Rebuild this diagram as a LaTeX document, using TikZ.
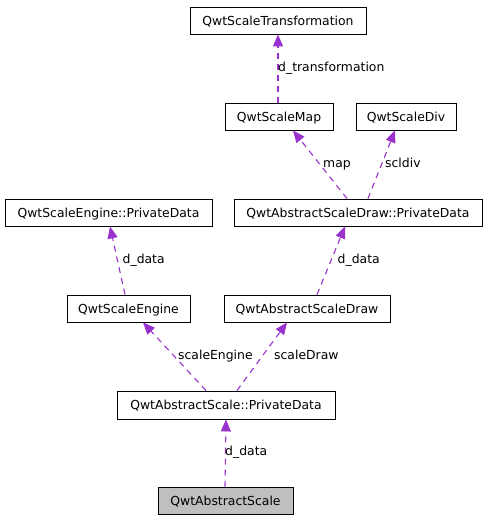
\documentclass[tikz,border=0pt]{standalone}
\usepackage{fontspec}
\setmainfont{DejaVu Sans}
\usetikzlibrary{arrows.meta}
\definecolor{edgepurple}{RGB}{154,50,205}
\definecolor{boxgray}{RGB}{191,191,191}
\begin{document}
\begin{tikzpicture}[x=1pt,y=-1pt,
  every node/.style={font=\fontsize{12.4}{14}\selectfont},
  cls/.style={draw=black, line width=0.9pt, fill=white, inner sep=0pt, minimum height=27pt, text height=9pt, text depth=0pt},
  lbl/.style={inner sep=0pt, anchor=base west},
  rel/.style={draw=edgepurple, line width=1.1pt, dash pattern=on 6pt off 5pt, -{Triangle[length=12pt,width=10pt,fill=edgepurple]}}
]
\useasboundingbox (0,0) rectangle (488,520);
\fill[white] (0,0) rectangle (488,520);
\node[cls, minimum width=176pt] (trans) at (278,20.5) {QwtScaleTransformation};
\node[cls, minimum width=108pt] (map) at (279,116.5) {QwtScaleMap};
\node[cls, minimum width=100pt] (div) at (406,116.5) {QwtScaleDiv};
\node[cls, minimum width=207pt] (sepd) at (108.5,212.5) {QwtScaleEngine::PrivateData};
\node[cls, minimum width=248pt] (asdpd) at (358,212.5) {QwtAbstractScaleDraw::PrivateData};
\node[cls, minimum width=123pt] (se) at (128.5,308.5) {QwtScaleEngine};
\node[cls, minimum width=166pt] (asd) at (307,308.5) {QwtAbstractScaleDraw};
\node[cls, minimum width=218pt, minimum height=28pt] (aspd) at (226,405) {QwtAbstractScale::PrivateData};
\node[cls, minimum width=135pt, fill=boxgray] (as) at (225.5,500.5) {QwtAbstractScale};

\draw[rel] ([xshift=-0.5pt]as.north) -- (aspd.south);
\draw[rel] ([xshift=-20pt]aspd.north) -- ([xshift=14.5pt]se.south);
\draw[rel] ([xshift=11pt]aspd.north) -- ([xshift=-20pt]asd.south);
\draw[rel] ([xshift=-3.5pt]se.north) -- ([xshift=1.5pt]sepd.south);
\draw[rel] ([xshift=10pt]asd.north) -- ([xshift=-13pt]asdpd.south);
\draw[rel] ([xshift=-11pt]asdpd.north) -- ([xshift=14pt]map.south);
\draw[rel] ([xshift=10pt]asdpd.north) -- ([xshift=-11pt]div.south);
\draw[rel] ([xshift=-1pt]map.north) -- (trans.south);

\node[lbl] (l1) at (225,455) {d\_data};
\node[lbl] (l2) at (178,359) {scaleEngine};
\node[lbl] (l3) at (274,359) {scaleDraw};
\node[lbl] (l4) at (122.5,263) {d\_data};
\node[lbl] (l5) at (337.5,263) {d\_data};
\node[lbl] (l6) at (323,167) {map};
\node[lbl] (l7) at (385,167) {scldiv};
\node[lbl] (l8) at (278,71) {d\_transformation};
\end{tikzpicture}
\end{document}
